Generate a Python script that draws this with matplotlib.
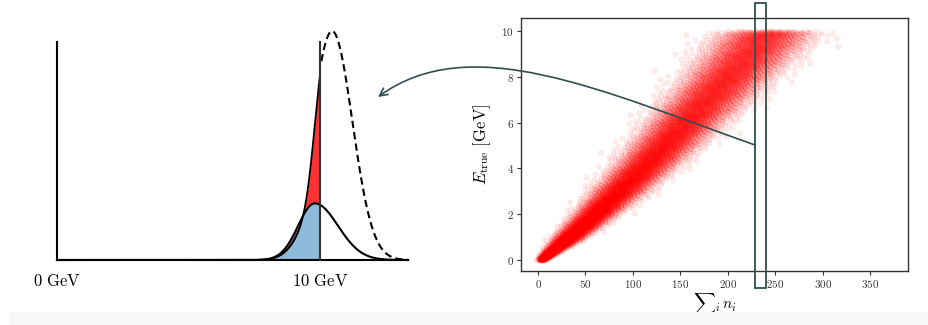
import matplotlib
matplotlib.use("Agg")
import matplotlib.pyplot as plt
import numpy as np
from matplotlib.patches import Rectangle, FancyArrowPatch
from matplotlib.path import Path

plt.rcParams['mathtext.fontset'] = 'cm'
plt.rcParams['font.family'] = 'serif'

# --- left panel: schematic energy distributions ---
# likelihood (blue): mode, left sigma, right sigma, height
likelihood_curve = [9.80, 0.63, 0.88, 0.26]
# extra narrow peak added on top of the scaled likelihood (red edge)
posterior_bump = [10.20, 0.37, 0.77]
posterior_scale = 0.72
# prior (dashed): mean, sigma, height
prior_curve = [10.46, 0.77, 1.05]
x_end = 13.35
cut_energy = 10.0
energy_labels = ['0 GeV', '10 GeV']
energy_label_pos = [0, 10]

# --- right panel: band of E_true vs sum n_i ---
band_E = [0, 1, 2, 3, 4, 5, 6, 7, 8, 9, 10]
band_n_mean = [3, 33, 60, 85, 110, 133, 155, 178, 200, 222, 243]
band_n_sd = [2, 8, 11, 14, 16, 18, 20, 22, 23, 25, 26]
n_points = 10000
x_ticks = [0, 50, 100, 150, 200, 250, 300, 350]
y_ticks = [0, 2, 4, 6, 8, 10]

W, H = 929, 325
fig = plt.figure(figsize=(W / 100, H / 100), dpi=100)

# light strip at the bottom (page background)
fig.patches.append(Rectangle((9 / W, 0), 1, 13 / H, transform=fig.transFigure,
                             facecolor='#f8f8f8', edgecolor='none', zorder=0))


def gauss(x, m, s, h):
    return h * np.exp(-(x - m) ** 2 / (2 * s ** 2))


def split_gauss(x, m, sl, sr, h):
    s = np.where(x < m, sl, sr)
    return h * np.exp(-(x - m) ** 2 / (2 * s ** 2))


# left axes mapped to pixels: x_px = 57 + 26.3*E, y_px = 260 - 218*h
ax0 = fig.add_axes([0, 0, 460 / W, 1])
ax0.set_xlim(-57 / 26.3, (460 - 57) / 26.3)
ax0.set_ylim((260 - 325) / 218, 260 / 218)
ax0.axis('off')

xs = np.linspace(0, x_end, 2000)
xl = xs[xs <= cut_energy]
blue = split_gauss(xl, *likelihood_curve)
red = posterior_scale * blue + gauss(xl, *posterior_bump)
ax0.fill_between(xl, blue, red, color='red', alpha=0.8, lw=0)
ax0.fill_between(xl, 0, blue, color='C0', alpha=0.5, lw=0)
ax0.plot(xl, red, color='black', lw=1.3)
ax0.plot(xs, split_gauss(xs, *likelihood_curve), color='black', lw=1.5)
xr = xs[xs >= cut_energy + 0.05]
ax0.plot(xr, gauss(xr, *prior_curve), color='black', lw=1.5, dashes=(3.5, 2))
ax0.plot([0, 0], [0, 1], color='black', lw=1.5)
ax0.plot([0, x_end], [0, 0], color='black', lw=1.5)
ax0.plot([cut_energy, cut_energy], [0, 1], color='#333333', lw=1.5)
for lab, pos in zip(energy_labels, energy_label_pos):
    ax0.text(pos, -0.10, r'$\mathrm{' + lab.replace(' ', r'\ ') + '}$',
             ha='center', va='center', fontsize=12)

# right scatter axes
ax1 = fig.add_axes([521 / W, (325 - 271) / H, (908 - 521) / W, (271 - 18) / H])
i = np.arange(n_points)
# deterministic low-discrepancy layout of the band (R2 sequence)
u1 = np.mod(i * 0.7548776662 + 0.5, 1.0)
u2 = np.clip(np.mod(i * 0.5698402910 + 0.5, 1.0), 1e-4, 1 - 1e-4)
E = band_E[-1] * u1
z = 4.91 * (u2 ** 0.14 - (1 - u2) ** 0.14)  # normal quantile approximation
n = np.interp(E, band_E, band_n_mean) + z * np.interp(E, band_E, band_n_sd)
ax1.scatter(n, E, s=13, color='red', alpha=0.07, linewidths=0.5)
ax1.set_xlim(-18, 390)
ax1.set_ylim(-0.48, 10.57)
ax1.set_xticks(x_ticks)
ax1.set_xticklabels([f'${t}$' for t in x_ticks])
ax1.set_yticks(y_ticks)
ax1.set_yticklabels([f'${t}$' for t in y_ticks])
ax1.tick_params(labelsize=8, length=3, colors='#333333', pad=2)
for sp in ax1.spines.values():
    sp.set_color('#333333')
    sp.set_linewidth(1.0)
ax1.set_xlabel(r'${\sum}_i\, n_i$', fontsize=11, labelpad=1)
ax1.set_ylabel(r'$E_{\mathrm{true}}\ [\mathrm{GeV}]$', fontsize=12, labelpad=6)


# selection box and curved arrow in pixel space
def px(x, y):
    return (x / W, 1 - y / H)


bx0, by0 = px(755, 288)
bx1, by1 = px(766, 3)
fig.patches.append(Rectangle((bx0, by0), bx1 - bx0, by1 - by0, transform=fig.transFigure,
                             facecolor='none', edgecolor='#2f4f4f', lw=1.3, zorder=5))
arc = Path([px(755, 145), px(600, 90), px(470, 30), px(378, 97)],
           [Path.MOVETO, Path.CURVE4, Path.CURVE4, Path.CURVE4])
arrow = FancyArrowPatch(path=arc, arrowstyle='->', mutation_scale=14,
                        color='#2f4f4f', lw=1.2, transform=fig.transFigure)
fig.patches.append(arrow)

fig.savefig('out.png', dpi=100)
